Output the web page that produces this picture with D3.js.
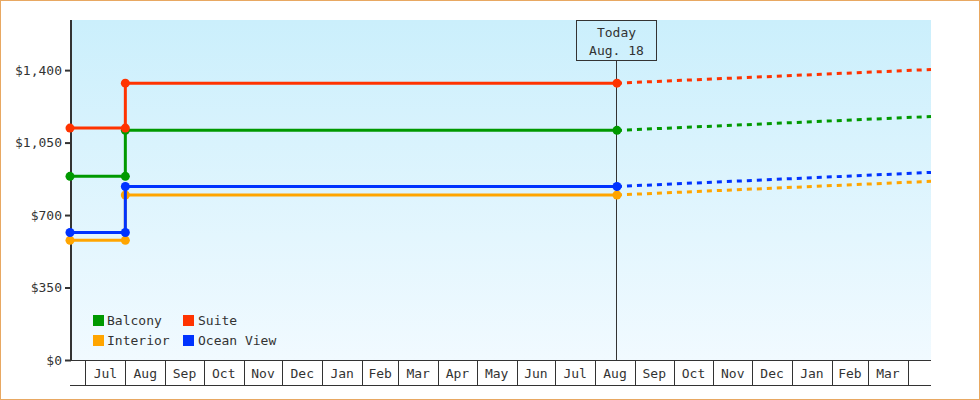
<!DOCTYPE html>
<html>
<head>
<meta charset="utf-8">
<script src="https://cdn.jsdelivr.net/npm/d3@7"></script>
<style>
  body { margin: 0; background: #fff; }
  svg text { font-family: "DejaVu Sans Mono", monospace; font-size: 13px; fill: #333; }
</style>
</head>
<body>
<div id="chart"></div>
<script>
//Series
const SERIES = ["Balcony", "Suite", "Interior", "Ocean View"];
const COLORS = ["#009900", "#ff3300", "#ffa500", "#0033ff"];

//Past prices (solid step line)
const PAST_DATES = ["2017-06-19", "2017-08-01", "2017-08-01", "2018-08-18"];
const BALCONY_PAST = [887, 887, 1109, 1109];
const SUITE_PAST = [1120, 1120, 1337, 1337];
const INTERIOR_PAST = [578, 578, 797, 797];
const OCEAN_PAST = [616, 616, 838, 838];

//Forecast (dashed)
const FORECAST_DATES = ["2018-08-18", "2019-04-19"];
const BALCONY_FORECAST = [1109, 1176];
const SUITE_FORECAST = [1337, 1403];
const INTERIOR_FORECAST = [797, 863];
const OCEAN_FORECAST = [838, 906];

//Axis
const Y_TICKS = [0, 350, 700, 1050, 1400];
const Y_MAX = 1642;
const TODAY = "2018-08-18";
const TODAY_LABEL = ["Today", "Aug. 18"];

//////////////////////////////////////////////////

const W = 980, H = 400;
const LEFT = 70, RIGHT = 931, TOP = 20, BOTTOM = 360;

const parse = d3.timeParse("%Y-%m-%d");
const past = [BALCONY_PAST, SUITE_PAST, INTERIOR_PAST, OCEAN_PAST];
const forecast = [BALCONY_FORECAST, SUITE_FORECAST, INTERIOR_FORECAST, OCEAN_FORECAST];

const x = d3.scaleTime()
  .domain([parse(PAST_DATES[0]), parse(FORECAST_DATES[1])])
  .range([LEFT, RIGHT]);
const y = d3.scaleLinear().domain([0, Y_MAX]).range([BOTTOM, TOP]);

const svg = d3.select("#chart").append("svg")
  .attr("width", W).attr("height", H);

//Outer border
svg.append("rect")
  .attr("x", 0.5).attr("y", 0.5).attr("width", W - 1).attr("height", H - 1)
  .attr("fill", "#fff").attr("stroke", "#e8a862");

//Plot background gradient
const grad = svg.append("defs").append("linearGradient")
  .attr("id", "bg").attr("x1", 0).attr("y1", 0).attr("x2", 0).attr("y2", 1);
grad.append("stop").attr("offset", "0%").attr("stop-color", "#cbeffc");
grad.append("stop").attr("offset", "100%").attr("stop-color", "#f1faff");

svg.append("rect")
  .attr("x", LEFT).attr("y", TOP)
  .attr("width", RIGHT - LEFT).attr("height", BOTTOM - TOP)
  .attr("fill", "url(#bg)");

//Month cells under the plot
const months = d3.timeMonth.range(d3.timeMonth.ceil(x.domain()[0]), x.domain()[1]);
const xAxis = d3.axisBottom(x)
  .tickValues(months)
  .tickSize(25)
  .tickFormat("");
const gx = svg.append("g")
  .attr("transform", `translate(0,${BOTTOM})`)
  .attr("shape-rendering", "crispEdges")
  .call(xAxis);
gx.select(".domain").remove();
gx.selectAll(".tick line").attr("stroke", "#333");

svg.append("g").attr("shape-rendering", "crispEdges")
  .selectAll("line").data([BOTTOM, BOTTOM + 25]).join("line")
  .attr("x1", LEFT).attr("x2", RIGHT)
  .attr("y1", d => d + 0.5).attr("y2", d => d + 0.5)
  .attr("stroke", "#333");

const fullMonths = months.filter(m => d3.timeMonth.offset(m, 1) <= x.domain()[1]);
svg.append("g").selectAll("text").data(fullMonths).join("text")
  .attr("x", d => (x(d) + x(d3.timeMonth.offset(d, 1))) / 2)
  .attr("y", BOTTOM + 18)
  .attr("text-anchor", "middle")
  .text(d3.timeFormat("%b"));

//Y axis
const yAxis = d3.axisLeft(y)
  .tickValues(Y_TICKS)
  .tickSize(6)
  .tickPadding(3)
  .tickFormat(d3.format("$,"));
const gy = svg.append("g")
  .attr("transform", `translate(${LEFT + 1},0)`)
  .call(yAxis);
gy.select(".domain").remove();
gy.selectAll(".tick line").attr("stroke", "#333").attr("stroke-width", 2);
gy.selectAll(".tick text").attr("fill", "#333")
  .style("font-family", "DejaVu Sans Mono").style("font-size", "13px");
svg.append("line")
  .attr("x1", LEFT + 1).attr("x2", LEFT + 1).attr("y1", TOP).attr("y2", BOTTOM + 1)
  .attr("stroke", "#333").attr("stroke-width", 2);

//Today marker
const tx = Math.floor(x(parse(TODAY))) + 0.5;
svg.append("line")
  .attr("x1", tx).attr("x2", tx).attr("y1", TOP + 40).attr("y2", BOTTOM)
  .attr("stroke", "#333");
svg.append("rect")
  .attr("x", tx - 40).attr("y", TOP + 0.5).attr("width", 80).attr("height", 40)
  .attr("fill", "none").attr("stroke", "#333");
svg.append("g").selectAll("text").data(TODAY_LABEL).join("text")
  .attr("x", tx).attr("y", (d, i) => TOP + 17 + i * 18)
  .attr("text-anchor", "middle")
  .text(d => d);

//Lines
const line = d3.line().x(d => x(d[0])).y(d => y(d[1]));
const drawOrder = [2, 3, 0, 1];

drawOrder.forEach(function(i) {
  const pts = PAST_DATES.map((d, j) => [parse(d), past[i][j]]);
  const fpts = FORECAST_DATES.map((d, j) => [parse(d), forecast[i][j]]);

  svg.append("path")
    .attr("d", line(fpts))
    .attr("fill", "none")
    .attr("stroke", COLORS[i])
    .attr("stroke-width", 3)
    .attr("stroke-dasharray", "5,5");

  svg.append("path")
    .attr("d", line(pts))
    .attr("fill", "none")
    .attr("stroke", COLORS[i])
    .attr("stroke-width", 3);

  svg.append("g").selectAll("circle").data(pts).join("circle")
    .attr("cx", d => x(d[0]))
    .attr("cy", d => y(d[1]))
    .attr("r", 4.5)
    .attr("fill", COLORS[i]);
});

//Legend
const legend = svg.append("g").attr("transform", "translate(93,315)");
const item = legend.selectAll("g").data(SERIES).join("g")
  .attr("transform", (d, i) => `translate(${(i % 2) * 90},${Math.floor(i / 2) * 20})`);
item.append("rect")
  .attr("width", 11).attr("height", 11)
  .attr("fill", (d, i) => COLORS[i]);
item.append("text")
  .attr("x", (d, i) => i % 2 ? 15 : 14)
  .attr("y", 10)
  .text(d => d);
</script>
</body>
</html>
